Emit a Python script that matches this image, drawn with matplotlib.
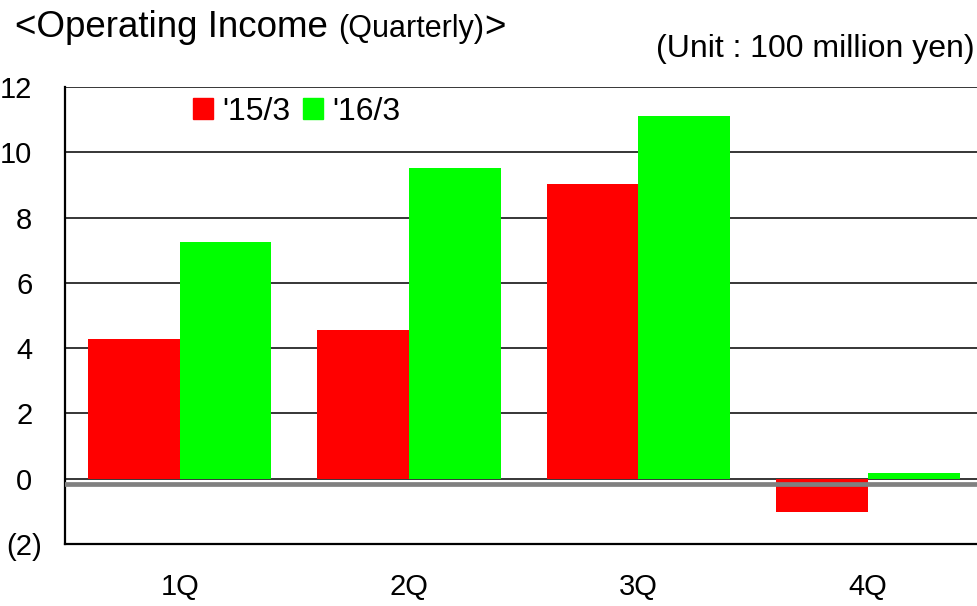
import matplotlib
matplotlib.use('Agg')
import matplotlib.pyplot as plt
from matplotlib.patches import Patch
from matplotlib.transforms import ScaledTranslation
import numpy as np

plt.rcParams['font.family'] = ['Liberation Sans', 'DejaVu Sans']

# data
quarters = ['1Q', '2Q', '3Q', '4Q']
fy15 = [4.29, 4.56, 9.04, -1.03]
fy16 = [7.26, 9.53, 11.12, 0.18]
series_names = ["'15/3", "'16/3"]
yticks = [-2, 0, 2, 4, 6, 8, 10, 12]
ytick_labels = ['(2)', '0', '2', '4', '6', '8', '10', '12']

W, H = 978, 606
fig = plt.figure(figsize=(W / 100, H / 100), dpi=100)

# axes placed in pixel terms
left, right, top, bottom = 65, 978, 87, 544
ax = fig.add_axes([left / W, 1 - bottom / H, (right - left) / W, (bottom - top) / H])

x = np.arange(len(quarters))
bw = 0.4
ax.bar(x - bw / 2, fy15, bw, color='#ff0000', zorder=3, label=series_names[0])
ax.bar(x + bw / 2, fy16, bw, color='#00ff00', zorder=3, label=series_names[1])

ax.set_xlim(-0.5, 3.48)
ax.set_ylim(-2, 12)

# horizontal grid
for v in yticks:
    ax.axhline(v, color='black', lw=1.1, zorder=2)
# gray base line just under zero
ax.axhline(-0.16, color='#808080', lw=3.4, zorder=4)

for s in ['top', 'right']:
    ax.spines[s].set_visible(False)
ax.spines['left'].set_linewidth(1.6)
ax.spines['bottom'].set_linewidth(1.6)

ax.set_yticks(yticks)
ax.set_yticklabels(ytick_labels)
ax.set_xticks(x)
ax.set_xticklabels(quarters)
ax.tick_params(axis='y', length=0, pad=23.5, labelsize=21)
ax.tick_params(axis='x', length=0, pad=21, labelsize=21)

# accounting style: the parenthesis hangs out to the right
for lbl in ax.get_yticklabels():
    if lbl.get_text().startswith('('):
        lbl.set_transform(lbl.get_transform() + ScaledTranslation(10 / 100, 0, fig.dpi_scale_trans))

handles = [Patch(color='#ff0000'), Patch(color='#00ff00')]
ax.legend(handles, series_names, ncol=2, frameon=False, fontsize=23,
          loc='center left', bbox_to_anchor=(193 / W, 1 - 112 / H),
          bbox_transform=fig.transFigure, borderpad=0, borderaxespad=0,
          handlelength=0.63, handleheight=0.63, handletextpad=0.28,
          columnspacing=0.4)

# title in pieces (small "(Quarterly)")
fig.canvas.draw()
r = fig.canvas.get_renderer()
ty = 1 - 37 / H
t1 = fig.text(15 / W, ty, '<Operating Income ', fontsize=26.5, va='baseline')
bb = t1.get_window_extent(r)
t2 = fig.text(bb.x1 / W, ty, '(Quarterly)', fontsize=22, va='baseline')
bb2 = t2.get_window_extent(r)
fig.text(bb2.x1 / W, ty, '>', fontsize=26.5, va='baseline')

fig.text(975 / W, 1 - 57 / H, '(Unit : 100 million yen)', fontsize=23,
         ha='right', va='baseline')

fig.savefig('out.png', dpi=100)
